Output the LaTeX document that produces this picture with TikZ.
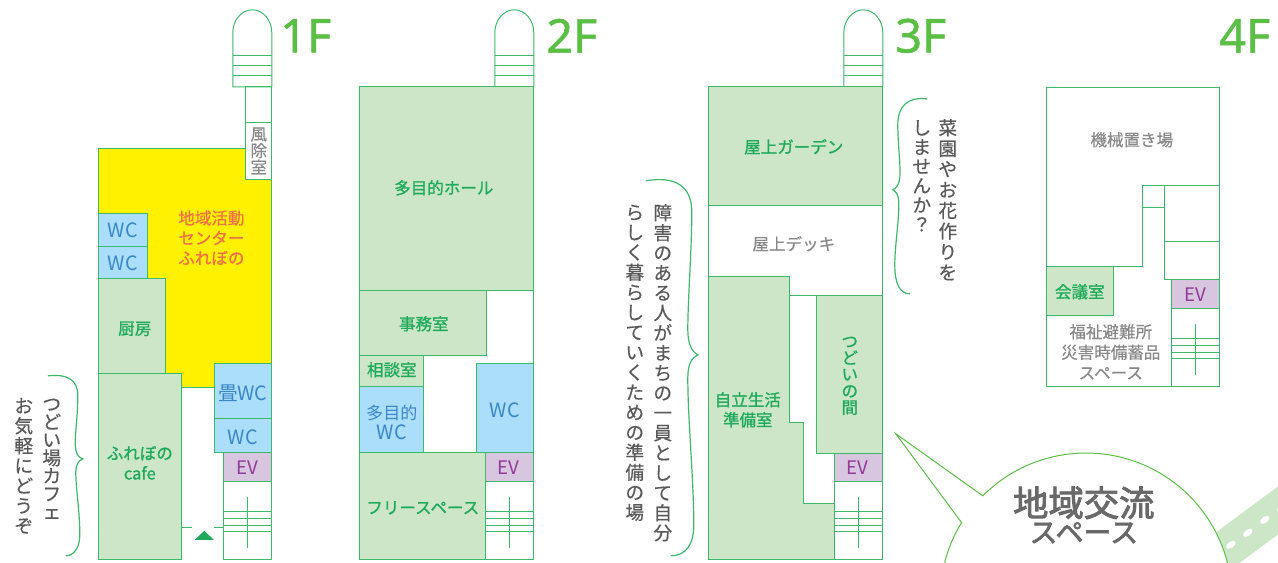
\documentclass[tikz,border=0pt]{standalone}
\usepackage{fontspec}
\setmainfont{Noto Sans CJK JP}
\newfontfamily\floorfont[FakeBold=1.2]{Noto Sans}
\newfontfamily\medfont[FakeBold=0.5]{Noto Sans CJK JP}
\newfontfamily\greenfont[FakeBold=1]{Noto Sans CJK JP}
\newfontfamily\bigfont[FakeBold=2.5]{Noto Sans CJK JP}
\definecolor{wallgreen}{RGB}{60,185,106}
\definecolor{roomgreen}{RGB}{205,230,199}
\definecolor{wcblue}{RGB}{170,222,251}
\definecolor{evpurple}{RGB}{216,198,224}
\definecolor{activeyellow}{RGB}{255,241,0}
\definecolor{floorgreen}{RGB}{91,191,69}
\definecolor{textgreen}{RGB}{30,170,90}
\definecolor{textblue}{RGB}{59,134,200}
\definecolor{textpurple}{RGB}{143,59,150}
\definecolor{textorange}{RGB}{244,111,75}
\definecolor{textgray}{RGB}{137,137,137}
\definecolor{handgray}{RGB}{90,90,90}
\definecolor{biggray}{RGB}{105,105,105}
\tikzset{every picture/.style={line width=0.75pt},
  wall/.style={draw=wallgreen},
  room/.style={draw=wallgreen,fill=roomgreen},
  wcroom/.style={draw=wallgreen,fill=wcblue},
  evroom/.style={draw=wallgreen,fill=evpurple},
  thinbrace/.style={draw=wallgreen,line width=0.9pt},
  floortext/.style={inner sep=0pt,text=floorgreen,font=\floorfont\fontsize{35}{35}\selectfont},
  txtgreen/.style={inner sep=0pt,align=center,text=textgreen,font=\greenfont\fontsize{12.4}{#1}\selectfont},
  txtgreen/.default=15,
  txtblue/.style={inner sep=0pt,align=center,text=textblue,font=\fontsize{14.8}{15}\selectfont},
  txtpurple/.style={inner sep=0pt,text=textpurple,font=\fontsize{14}{15}\selectfont},
  txtgray/.style={inner sep=0pt,align=center,text=textgray,font=\medfont\fontsize{12.4}{#1}\selectfont},
  txtgray/.default=15.4,
  txtorange/.style={inner sep=0pt,align=left,text=textorange,font=\medfont\fontsize{12.4}{15}\selectfont},
  txthand/.style={inner sep=0pt,align=center,text=handgray,font=\medfont\fontsize{14}{#1}\selectfont},
  txtbig/.style={inner sep=0pt,text=biggray,font=\bigfont\fontsize{#1}{#1}\selectfont}}

\begin{document}
\begin{tikzpicture}[x=0.75pt,y=0.75pt,yscale=-1,xscale=1]
\useasboundingbox (0.2,0.2) rectangle (1278.2,562.2);
\clip (0.2,0.2) rectangle (1278.2,562.2);

%Road
\fill [roomgreen] (1217,532) -- (1279,486) -- (1279,534) -- (1240,563) -- (1200,563) -- cycle ;
\fill [white,rotate around={-36:(1231,545)}] (1231,545) ellipse [x radius=5.5,y radius=3] ;
\fill [white,rotate around={-36:(1248,533)}] (1248,533) ellipse [x radius=5.5,y radius=3] ;
\fill [white,rotate around={-36:(1265,520)}] (1265,520) ellipse [x radius=5.5,y radius=3] ;
\fill [white,rotate around={-36:(1282,508)}] (1282,508) ellipse [x radius=5.5,y radius=3] ;
%Speech bubble
\draw [draw=floorgreen,fill=white] (896,434) -- (983,496) arc [start angle=225,end angle=365,radius=146] -- (945,580) -- (945,562) arc [start angle=194.7,end angle=211.5,radius=146] -- cycle ;

% ---- 1F ----
%Stair top
\draw [wall,fill=white] (233,87) -- (233,33) .. controls (233,20.3) and (241.7,10) .. (252.5,10) .. controls (263.3,10) and (272,20.3) .. (272,33) -- (272,87) -- cycle ;
\draw [wall] (233,56) -- (272,56) ;
\draw [wall] (233,66) -- (272,66) ;
\draw [wall] (233,76) -- (272,76) ;
%Shape: Rectangle
\draw [wall] (246,87) -- (272,87) -- (272,123) -- (246,123) -- cycle ;
\draw [wall] (246,123) -- (272,123) -- (272,180) -- (246,180) -- cycle ;
\draw [wall,fill=activeyellow] (99,149) -- (246,149) -- (246,180) -- (272,180) -- (272,364) -- (215,364) -- (215,388) -- (182,388) -- (182,374) -- (99,374) -- cycle ;
\draw [wcroom] (99,214) -- (148,214) -- (148,247) -- (99,247) -- cycle ;
\draw [wcroom] (99,247) -- (148,247) -- (148,279) -- (99,279) -- cycle ;
\draw [room] (99,279) -- (166,279) -- (166,374) -- (99,374) -- cycle ;
\draw [room] (99,374) -- (182,374) -- (182,560) -- (99,560) -- cycle ;
\draw [wcroom] (215,364) -- (272,364) -- (272,419) -- (215,419) -- cycle ;
\draw [wcroom] (215,419) -- (272,419) -- (272,453) -- (215,453) -- cycle ;
\draw [evroom] (224,453) -- (272,453) -- (272,482) -- (224,482) -- cycle ;
\draw [wall] (224,482) -- (272,482) -- (272,560) -- (224,560) -- cycle ;
%Stairs
\draw [wall] (224,512) -- (272,512) ;
\draw [wall] (224,519) -- (272,519) ;
\draw [wall] (224,526) -- (272,526) ;
\draw [wall] (224,532) -- (272,532) ;
\draw [wall] (248,497) -- (248,548) ;
%Entrance
\draw [wall] (182,528) -- (192,528) ;
\draw [wall] (214,528) -- (224,528) ;
\fill [textgreen] (195,540) -- (204.5,531) -- (214,540) -- cycle ;
%Curly brace
\draw [thinbrace] (48,376) .. controls (68,374) and (78,380) .. (78,396) .. controls (78,420) and (74,440) .. (76,450) .. controls (77,456) and (80,458) .. (83,459) .. controls (78,461) and (76,466) .. (76,472) .. controls (76,490) and (80,510) .. (80,535) .. controls (80,548) and (74,556) .. (66,556) ;

% ---- 2F ----
\draw [wall,fill=white] (495,87) -- (495,33) .. controls (495,20.3) and (503.7,10) .. (514.5,10) .. controls (525.3,10) and (534,20.3) .. (534,33) -- (534,87) -- cycle ;
\draw [wall] (495,56) -- (534,56) ;
\draw [wall] (495,66) -- (534,66) ;
\draw [wall] (495,76) -- (534,76) ;
\draw [room] (360,87) -- (534,87) -- (534,291) -- (360,291) -- cycle ;
\draw [room] (360,291) -- (487,291) -- (487,356) -- (360,356) -- cycle ;
\draw [wall] (534,291) -- (534,364) ;
\draw [room] (360,356) -- (424,356) -- (424,387) -- (360,387) -- cycle ;
\draw [wcroom] (360,387) -- (424,387) -- (424,453) -- (360,453) -- cycle ;
\draw [wcroom] (477,364) -- (534,364) -- (534,453) -- (477,453) -- cycle ;
\draw [room] (360,453) -- (486,453) -- (486,560) -- (360,560) -- cycle ;
\draw [evroom] (486,453) -- (534,453) -- (534,482) -- (486,482) -- cycle ;
\draw [wall] (486,482) -- (534,482) -- (534,560) -- (486,560) -- cycle ;
\draw [wall] (486,512) -- (534,512) ;
\draw [wall] (486,519) -- (534,519) ;
\draw [wall] (486,526) -- (534,526) ;
\draw [wall] (486,532) -- (534,532) ;
\draw [wall] (510,497) -- (510,548) ;

% ---- 3F ----
\draw [wall,fill=white] (844,87) -- (844,33) .. controls (844,20.3) and (852.7,10) .. (863.5,10) .. controls (874.3,10) and (883,20.3) .. (883,33) -- (883,87) -- cycle ;
\draw [wall] (844,56) -- (883,56) ;
\draw [wall] (844,66) -- (883,66) ;
\draw [wall] (844,76) -- (883,76) ;
\draw [room] (709,87) -- (883,87) -- (883,206) -- (709,206) -- cycle ;
\draw [wall] (709,206) -- (709,277) ;
\draw [wall] (883,206) -- (883,296) -- (790,296) ;
\draw [room] (709,277) -- (790,277) -- (790,423) -- (804,423) -- (804,504) -- (835,504) -- (835,560) -- (709,560) -- cycle ;
\draw [room] (817,296) -- (883,296) -- (883,454) -- (817,454) -- cycle ;
\draw [evroom] (835,454) -- (883,454) -- (883,482) -- (835,482) -- cycle ;
\draw [wall] (835,482) -- (883,482) -- (883,560) -- (835,560) -- cycle ;
\draw [wall] (835,512) -- (883,512) ;
\draw [wall] (835,519) -- (883,519) ;
\draw [wall] (835,526) -- (883,526) ;
\draw [wall] (835,532) -- (883,532) ;
\draw [wall] (859,497) -- (859,548) ;
%Curly brace
\draw [thinbrace] (646,181) .. controls (675,176) and (692,186) .. (692,212) .. controls (692,250) and (688,300) .. (688,330) .. controls (688,344) and (692,352) .. (698,355) .. controls (692,358) and (688,364) .. (688,378) .. controls (688,420) and (694,480) .. (694,525) .. controls (694,545) and (686,556) .. (671,556) ;
\draw [thinbrace] (927,99) .. controls (908,97) and (898,106) .. (898,125) .. controls (898,145) and (901,165) .. (900,178) .. controls (899,185) and (897,188) .. (893,190) .. controls (897,192) and (899,196) .. (899,204) .. controls (899,225) and (895,245) .. (895,265) .. controls (895,284) and (900,294) .. (910,294) ;

% ---- 4F ----
\draw [wall] (1047,88) -- (1220,88) -- (1220,387) -- (1047,387) -- cycle ;
\draw [wall] (1047,267) -- (1143,267) -- (1143,186) -- (1220,186) ;
\draw [wall] (1143,207.5) -- (1165,207.5) ;
\draw [wall] (1165,186) -- (1165,280) -- (1220,280) ;
\draw [wall] (1165,242) -- (1220,242) ;
\draw [room] (1047,267) -- (1114,267) -- (1114,316) -- (1047,316) -- cycle ;
\draw [evroom] (1172,280) -- (1220,280) -- (1220,309) -- (1172,309) -- cycle ;
\draw [wall] (1172,309) -- (1220,309) -- (1220,387) -- (1172,387) -- cycle ;
\draw [wall] (1172,339) -- (1220,339) ;
\draw [wall] (1172,346) -- (1220,346) ;
\draw [wall] (1172,353) -- (1220,353) ;
\draw [wall] (1172,359) -- (1220,359) ;
\draw [wall] (1196,324) -- (1196,375) ;

% Text Node
\draw (306,36) node (floorone) [floortext] {1F} ;
\draw (572,36) node (floortwo) [floortext] {2F} ;
\draw (921,36) node (floorthree) [floortext] {3F} ;
\draw (1245,36) node (floorfour) [floortext] {4F} ;
% Text Node
\draw (259,151) node (windroom) [txtgray=12.4] {風\\除\\室} ;
\draw (178,238) node (activity) [txtorange,anchor=west] {地域活動\\センター\\ふれぼの} ;
\draw (123,230) node (wcone) [txtblue] {WC} ;
\draw (123,263) node (wctwo) [txtblue] {WC} ;
\draw (135,329) node (kitchen) [txtgreen] {厨房} ;
\draw (140,463) node (cafe) [txtgreen] {ふれぼの\\cafe} ;
\draw (243,393) node (tatamiwc) [txtblue] {畳WC} ;
\draw (243,437) node (wcthree) [txtblue] {WC} ;
\draw (248,468) node (evone) [txtpurple] {EV} ;
\draw (52,459) node (handcafe) [txthand=13.5] {つ\\ど\\い\\場\\カ\\フ\\ェ} ;
\draw (24,466) node (handcasual) [txthand=15] {お\\気\\軽\\に\\ど\\う\\ぞ} ;
% Text Node
\draw (444,188) node (hall) [txtgreen] {多目的ホール} ;
\draw (424,324) node (office) [txtgreen] {事務室} ;
\draw (392,370) node (consult) [txtgreen] {相談室} ;
\draw (392,423) node (multiwc) [txtblue] {{\fontsize{12.8}{15}\selectfont 多目的}\\WC} ;
\draw (505,410) node (wcfour) [txtblue] {WC} ;
\draw (423,508) node (freespace) [txtgreen] {フリースペース} ;
\draw (509,468) node (evtwo) [txtpurple] {EV} ;
% Text Node
\draw (794,147) node (garden) [txtgreen] {屋上ガーデン} ;
\draw (794,244) node (deck) [txtgray] {屋上デッキ} ;
\draw (748,410) node (prep) [txtgreen] {自立生活\\準備室} ;
\draw (850,376) node (gather) [txtgreen=12.4] {つ\\ど\\い\\の\\間} ;
\draw (858,468) node (evthree) [txtpurple] {EV} ;
\draw (663,373) node (handlive) [txthand=15] {障\\害\\の\\あ\\る\\人\\が\\ま\\ち\\の\\一\\員\\と\\し\\て\\自\\分} ;
\draw (635,363) node (handown) [txthand=15] {ら\\し\\く\\暮\\ら\\し\\て\\い\\く\\た\\め\\の\\準\\備\\の\\場} ;
\draw (948,200) node (handfield) [txthand=15.5] {菜\\園\\や\\お\\花\\作\\り\\を} ;
\draw (922,176) node (handtry) [txthand=14.5] {し\\ま\\せ\\ん\\か\\？} ;
% Text Node
\draw (1132,140) node (machine) [txtgray] {機械置き場} ;
\draw (1080,292) node (meeting) [txtgreen] {会議室} ;
\draw (1111,352) node (storage) [txtgray] {福祉避難所\\災害時備蓄品\\スペース} ;
\draw (1196,295) node (evfour) [txtpurple] {EV} ;
% Text Node
\draw (1084,503) node (bubbleone) [txtbig=26.5] {地域交流} ;
\draw (1084,533) node (bubbletwo) [txtbig=21] {スペース} ;

\end{tikzpicture}
\end{document}
